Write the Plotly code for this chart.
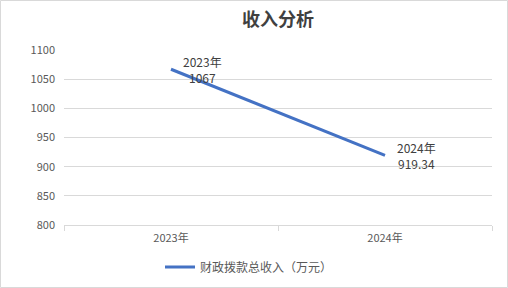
import plotly.graph_objects as go

categories = ["2023年", "2024年"]
values = [1067, 919.34]
value_labels = ["1067", "919.34"]
series_name = "财政拨款总收入（万元）"
title = "收入分析"
y_ticks = [800, 850, 900, 950, 1000, 1050, 1100]

W, H = 508, 288
ML, MR, MT, MB = 64, 16, 50, 63
PW, PH = W - ML - MR, H - MT - MB

fig = go.Figure()
fig.add_trace(go.Scatter(
    x=categories, y=values, mode="lines", name=series_name,
    line=dict(color="#4472C4", width=3), hoverinfo="skip",
))

for c, v, lab in zip(categories, values, value_labels):
    fig.add_annotation(
        x=c, y=v, text=f"{c}<br>{lab}", showarrow=False,
        xanchor="left", yanchor="middle", xshift=10, align="center",
        font=dict(family="Noto Sans CJK SC, sans-serif", size=12, color="#404040"),
    )

def px_x(p):
    return (p - ML) / PW

def px_y(p):
    return (H - MB - p) / PH

fig.add_shape(type="rect", xref="paper", yref="paper",
              x0=px_x(0.5), x1=px_x(507.5), y0=px_y(287.5), y1=px_y(0.5),
              line=dict(color="#d9d9d9", width=1), fillcolor="rgba(0,0,0,0)", layer="below")

fig.update_layout(
    width=W, height=H,
    margin=dict(l=ML, r=MR, t=MT, b=MB, autoexpand=False),
    paper_bgcolor="white", plot_bgcolor="white",
    title=dict(text="<b>" + title + "</b>", x=0.5, xref="paper", xanchor="center",
               y=1 - 20 / H, yanchor="middle",
               font=dict(family="Noto Sans CJK SC, sans-serif", size=18, color="#404040")),
    showlegend=True,
    legend=dict(orientation="h", x=px_x(160), xanchor="left", y=px_y(267), yanchor="middle",
                font=dict(family="Noto Sans CJK SC, sans-serif", size=12, color="#595959"),
                itemwidth=30),
    font=dict(family="Noto Sans CJK SC, sans-serif"),
)
fig.update_xaxes(
    type="category", range=[-0.5, 1.5], automargin=False,
    showgrid=False, showline=True, linecolor="#d9d9d9", linewidth=1,
    ticks="outside", tickson="boundaries", ticklen=5, tickcolor="#d9d9d9",
    ticklabelstandoff=3,
    tickfont=dict(size=11, color="#595959"), zeroline=False,
)
fig.update_yaxes(
    range=[800, 1100], tickvals=y_ticks, automargin=False,
    showgrid=True, gridcolor="#d9d9d9", gridwidth=1,
    showline=False, zeroline=False, ticks="", ticklabelstandoff=8,
    tickfont=dict(size=11, color="#595959"),
)
fig.write_html("out.html")
